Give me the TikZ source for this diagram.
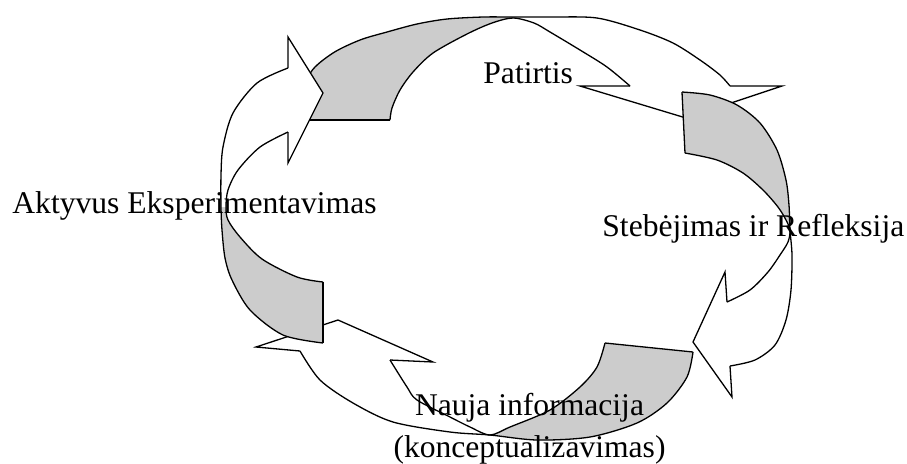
\documentclass[tikz,border=0pt]{standalone}
\usepackage{fontspec}
\setmainfont{Liberation Serif}
\definecolor{backgray}{RGB}{204,204,204}

\begin{document}
\begin{tikzpicture}[x=0.5pt, y=-0.5pt,
    backside/.style={fill=backgray},
    frontside/.style={fill=white},
    outline/.style={draw=black, line width=0.65pt},
    cyclelabel/.style={inner sep=0pt, font=\fontsize{15.8pt}{19pt}\selectfont}]
% page
\fill[white] (0,0) rectangle (907,463);
\useasboundingbox (0,0) rectangle (907,463);

% Patirtis arrow (top)
\fill[backside] plot[smooth] coordinates {(304,120) (305,100) (311,72) (333,53) (360,40) (387,32) (417,24) (447,19) (483,17) (513,17)}
    -- plot[smooth] coordinates {(513,18) (492,23) (467,34) (433,53) (413,72) (400,90) (392,108) (390,120)} -- cycle;
\fill[frontside] plot[smooth] coordinates {(513,17) (550,17) (597,18) (640,30) (673,43) (700,60) (720,75) (730,86)}
    -- (782,86) -- (686,118) -- (580,86) -- (630,86)
    -- plot[smooth] coordinates {(630,86) (607,67) (580,50) (550,32) (534,23) (513,18)} -- cycle;
\draw[outline] plot[smooth] coordinates {(304,120) (305,100) (311,72) (333,53) (360,40) (387,32) (417,24) (447,19) (483,17) (513,17) (550,17) (597,18) (640,30) (673,43) (700,60) (720,75) (730,86)};
\draw[outline] plot[smooth] coordinates {(390,120) (392,108) (400,90) (413,72) (433,53) (467,34) (492,23) (513,18) (534,23) (550,32) (580,50) (607,67) (630,86)};
\draw[outline] (304,120) -- (390,120);
\draw[outline] (730,86) -- (782,86) -- (686,118) -- (580,86) -- (630,86);

% Stebejimas arrow (right)
\fill[backside] plot[smooth] coordinates {(682,92) (710,95) (737,105) (760,123) (777,150) (786,180) (789,205) (790,230)}
    -- plot[smooth] coordinates {(790,230) (786,220) (778,207) (763,190) (743,173) (717,160) (685,153)} -- cycle;
\fill[frontside] plot[smooth] coordinates {(790,230) (792,255) (791,290) (786,320) (775,345) (755,360) (730,366)}
    -- (732,397) -- (693,342) -- (725,272) -- (727,302)
    -- plot[smooth] coordinates {(727,302) (750,290) (768,272) (780,255) (788,242) (790,230)} -- cycle;
\draw[outline] plot[smooth] coordinates {(682,92) (710,95) (737,105) (760,123) (777,150) (786,180) (789,205) (790,230) (792,255) (791,290) (786,320) (775,345) (755,360) (730,366)};
\draw[outline] plot[smooth] coordinates {(685,153) (717,160) (743,173) (763,190) (778,207) (786,220) (790,230) (788,242) (780,255) (768,272) (750,290) (727,302)};
\draw[outline] (682,92) -- (685,153);
\draw[outline] (730,366) -- (732,397) -- (693,342) -- (725,272) -- (727,302);

% Nauja informacija arrow (bottom)
\fill[backside] plot[smooth] coordinates {(693,352) (687,377) (667,403) (637,423) (590,437) (537,440) (490,435)}
    -- plot[smooth] coordinates {(490,435) (510,427) (550,410) (580,387) (597,367) (605,343)} -- cycle;
\fill[frontside] plot[smooth] coordinates {(490,435) (450,432) (393,422) (353,403) (320,380) (300,351)}
    -- (256,347) -- (338,320) -- (433,362) -- (390,360)
    -- plot[smooth] coordinates {(390,360) (407,387) (417,400) (450,417) (470,427) (490,435)} -- cycle;
\draw[outline] plot[smooth] coordinates {(693,352) (687,377) (667,403) (637,423) (590,437) (537,440) (490,435) (450,432) (393,422) (353,403) (320,380) (300,351)};
\draw[outline] plot[smooth] coordinates {(605,343) (597,367) (580,387) (550,410) (510,427) (490,435) (470,427) (450,417) (417,400) (407,387) (390,360)};
\draw[outline] (605,343) -- (693,352);
\draw[outline] (300,351) -- (256,347) -- (338,320) -- (433,362) -- (390,360);

% Aktyvus Eksperimentavimas arrow (left)
\fill[backside] plot[smooth] coordinates {(221,207) (222,230) (225,258) (232,280) (250,310) (283,335) (323,343)}
    -- (323,282)
    -- plot[smooth] coordinates {(323,282) (297,277) (262,259) (240,237) (228,220) (226,207)} -- cycle;
\fill[frontside] plot[smooth] coordinates {(221,207) (221,175) (223,147) (233,113) (257,83) (288,68)}
    -- (288,37) -- (323,93) -- (288,163) -- (288,132)
    -- plot[smooth] coordinates {(288,132) (260,147) (238,170) (228,190) (226,207)} -- cycle;
\draw[outline] plot[smooth] coordinates {(288,68) (257,83) (233,113) (223,147) (221,175) (221,207) (222,230) (225,258) (232,280) (250,310) (283,335) (323,343)};
\draw[outline] plot[smooth] coordinates {(288,132) (260,147) (238,170) (228,190) (226,207) (228,220) (240,237) (262,259) (297,277) (323,282)};
\draw[outline] (323,282) -- (323,343);
\draw[outline] (288,68) -- (288,37) -- (323,93) -- (288,163) -- (288,132);

% labels
\node[cyclelabel, anchor=base west] (patirtis) at (483,83) {Patirtis};
\node[cyclelabel, anchor=base west] (stebejimas) at (602,236) {Stebėjimas ir Refleksija};
\node[cyclelabel, anchor=base] (nauja) at (529.5,415) {Nauja informacija};
\node[cyclelabel, anchor=base] (konceptual) at (529.5,457) {(konceptualizavimas)};
\node[cyclelabel, anchor=base west] (aktyvus) at (12,213) {Aktyvus Eksperimentavimas};
\end{tikzpicture}
\end{document}
